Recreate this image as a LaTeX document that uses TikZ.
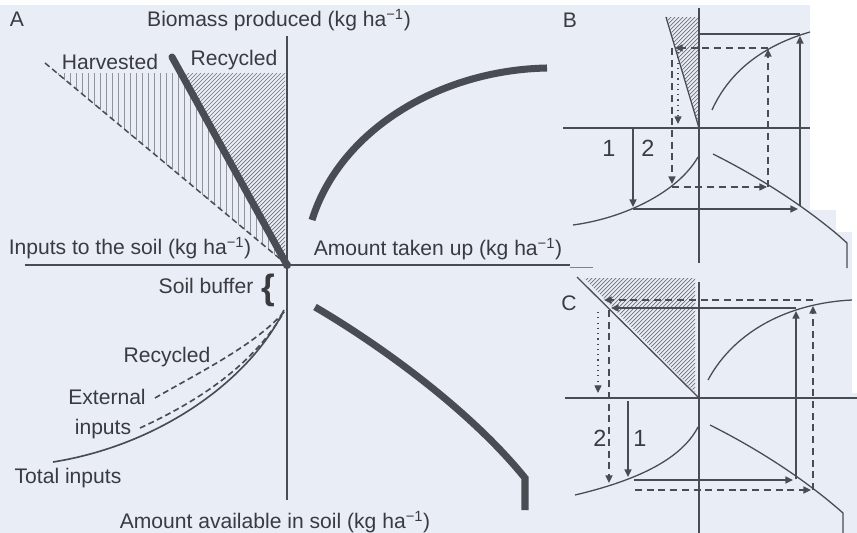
\documentclass[tikz,border=0pt]{standalone}
\usepackage{fontspec}
\setmainfont{Liberation Sans}
\usetikzlibrary{arrows.meta}
\definecolor{paper}{HTML}{E9EDF5}
\definecolor{inkc}{HTML}{4A4C53}
\definecolor{txtc}{HTML}{3A3B40}

\begin{document}
\begin{tikzpicture}[x=0.03cm,y=-0.03cm,
  ink/.style={draw=inkc,line width=1.1pt},
  fat/.style={draw=inkc,line width=6pt},
  dsh/.style={ink,dash pattern=on 6pt off 4pt},
  dts/.style={ink,line width=0.9pt,dash pattern=on 1pt off 3.5pt},
  tip/.style={-{Triangle[length=6.5pt,width=6pt]}},
  hatchline/.style={draw=inkc!80,line width=0.6pt},
  lab/.style={text=txtc,inner sep=0pt,font=\fontsize{18}{20}\selectfont}]
\useasboundingbox (0,0) rectangle (857,533);
\fill[paper] (0,0) rectangle (857,533);
\fill[white] (0,0) rectangle (857,5);
\fill[white] (810,5) rectangle (857,210);
\fill[white] (836,210) rectangle (857,232);
\fill[white] (852,232) rectangle (857,393);

% panel A
\begin{scope}
\clip (56,73)--(181,73)--(287,265)--cycle;
\foreach \x in {58,64,...,286} \draw[inkc!60,line width=0.8pt] (\x,73)--(\x,265);
\end{scope}
\begin{scope}
\clip (181,73)--(285,73)--(285,265)--cycle;
\foreach \c in {250,254,...,554} \draw[hatchline] ({\c-280},280)--({\c-50},50);
\end{scope}
\draw[ink,line width=1.3pt,dash pattern=on 5pt off 3pt] (45,63)--(285,263);
\draw[ink] (287,36)--(287,500);
\draw[ink] (25,265)--(570,265);
\draw[fat,line cap=round] (172,57)--(287,265);
\fill[inkc] (287,265) circle (3.5pt);
\draw[fat] (312,220) .. controls (340,130) and (440,70) .. (547,68);
\draw[fat] (315,307) .. controls (380,345) and (470,410) .. (525,478) -- (525,510);
\draw[ink,line width=1.4pt] (53,462) .. controls (160,445) and (250,380) .. (284,310);
\draw[dsh,line width=1.4pt,dash pattern=on 5pt off 3pt] (155,398) .. controls (200,372) and (255,345) .. (284,312);
\draw[dsh,line width=1.4pt,dash pattern=on 5pt off 3pt] (140,428) .. controls (190,405) and (250,370) .. (284,312);

\node[lab] (tagA) at (17,19) {A};
\node[lab] (biomass) at (279,20) {Biomass produced (kg ha\textsuperscript{−1})};
\node[lab] (harvested) at (110,62) {Harvested};
\node[lab] (recycledtop) at (234,60) {Recycled};
\node[lab] (inputs) at (130,248) {Inputs to the soil (kg ha\textsuperscript{−1})};
\node[lab] (takenup) at (438,249) {Amount taken up (kg ha\textsuperscript{−1})};
\node[lab] (buffer) at (206,286) {Soil buffer};
\node[text=txtc,inner sep=0pt,font=\fontsize{30}{30}\selectfont\bfseries] (brace) at (268,290) {\{};
\node[lab] (recycledlow) at (167,357) {Recycled};
\node[lab] (external) at (107,397) {External};
\node[lab] (extinputs) at (103,429) {inputs};
\node[lab] (total) at (68,478) {Total inputs};
\node[lab] (available) at (275,522) {Amount available in soil (kg ha\textsuperscript{−1})};

% panel B
\begin{scope}
\clip (667,17)--(699,17)--(699,126)--cycle;
\foreach \c in {680,684,...,830} \draw[hatchline] ({\c-140},140)--({\c-10},10);
\end{scope}
\draw[ink] (666,17)--(699,128);
\draw[ink] (699,8)--(699,263);
\draw[ink] (563,128)--(810,128);
\draw[ink] (712,110) .. controls (730,70) and (765,45) .. (810,32);
\draw[ink] (573,225) .. controls (625,218) and (678,192) .. (698,157);
\draw[ink] (713,154) .. controls (755,175) and (800,203) .. (838,235) -- (847,243) -- (847,268);
\draw[ink,tip] (633,129)--(633,207);
\draw[ink,tip] (633,209)--(798,209);
\draw[ink,tip] (800,206)--(800,36);
\draw[ink] (800,34)--(699,34);
\draw[dsh,tip] (768,187)--(768,49);
\draw[dsh,tip] (768,48)--(675,48);
\draw[dts,tip] (678,52)--(678,124);
\draw[dsh,tip] (672,48)--(672,184);
\draw[dsh,tip] (672,187)--(767,187);
\node[lab] (tagB) at (570,20) {B};
\node[lab,font=\fontsize{20}{22}\selectfont] (oneB) at (609,148) {1};
\node[lab,font=\fontsize{20}{22}\selectfont] (twoB) at (648,148) {2};

% panel C
\draw[inkc!70,line width=0.8pt] (570,267)--(593,267);
\begin{scope}
\clip (584,278)--(695,278)--(695,392)--cycle;
\foreach \c in {858,862,...,1090} \draw[hatchline] ({\c-400},400)--({\c-270},270);
\end{scope}
\draw[ink] (577,277)--(699,398);
\draw[ink] (699,282)--(699,533);
\draw[ink] (565,398)--(857,398);
\draw[ink] (708,380) .. controls (735,330) and (790,303) .. (852,300);
\draw[ink] (575,495) .. controls (630,482) and (680,462) .. (698,427);
\draw[ink] (710,425) .. controls (750,445) and (800,475) .. (843,513) -- (843,533);
\draw[dsh,tip] (813,300)--(604,300);
\draw[ink,tip] (796,308)--(611,308);
\draw[ink,tip] (796,479)--(796,311);
\draw[dsh,tip] (813,490)--(813,306);
\draw[ink,tip] (634,480)--(793,480);
\draw[dsh,tip] (635,490)--(811,490);
\draw[ink,tip] (628,401)--(628,477);
\draw[dsh,tip] (609,310)--(609,483);
\draw[dts,tip] (598,312)--(598,393);
\node[lab] (tagC) at (569,303) {C};
\node[lab,font=\fontsize{20}{22}\selectfont] (twoC) at (600,438) {2};
\node[lab,font=\fontsize{20}{22}\selectfont] (oneC) at (640,438) {1};
\end{tikzpicture}
\end{document}
